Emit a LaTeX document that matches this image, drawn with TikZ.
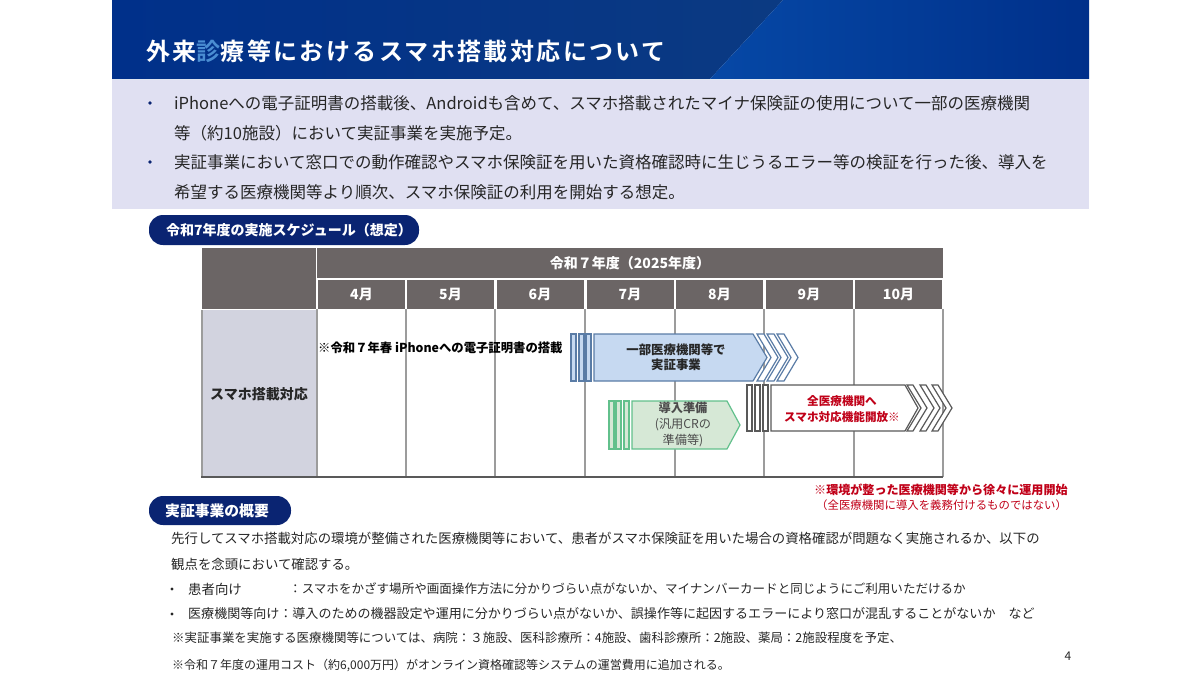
\documentclass[tikz,border=0pt]{standalone}
\usepackage{fontspec}
\setmainfont{Noto Sans CJK JP}
\newfontfamily\titlefont[LetterSpace=10,BoldFont={Noto Sans CJK JP Bold}]{Noto Sans CJK JP}
\usetikzlibrary{calc,positioning}
\definecolor{navy}{HTML}{0A2472}
\definecolor{bannerblue}{HTML}{00308A}
\definecolor{bannerdark}{HTML}{0B3A82}
\definecolor{bannerlight}{HTML}{0648A6}
\definecolor{panel}{HTML}{E0E0F2}
\definecolor{headgray}{HTML}{6B6565}
\definecolor{sidegray}{HTML}{D2D3DF}
\definecolor{gridgray}{HTML}{9C9C9C}
\definecolor{bodytext}{HTML}{262626}
\definecolor{notered}{HTML}{C00018}
\definecolor{bluefill}{HTML}{C6D9F1}
\definecolor{blueline}{HTML}{5A7CA6}
\definecolor{greenfill}{HTML}{D6E8D6}
\definecolor{greenline}{HTML}{62C08C}
\tikzset{
  leadline/.style={anchor=west,inner sep=0pt,text=bodytext,font=\fontsize{16.5}{16}\selectfont},
  bodyline/.style={anchor=west,inner sep=0pt,text=bodytext,font=\fontsize{13.4}{14}\selectfont},
  smallline/.style={anchor=west,inner sep=0pt,text=bodytext,font=\fontsize{12}{12}\selectfont},
  pill/.style={rounded corners=14pt,fill=navy,draw=none},
  pilltext/.style={anchor=west,inner sep=0pt,text=white,font=\fontsize{14}{14}\selectfont\bfseries},
  headcell/.style={fill=headgray,text=white,inner sep=0pt,font=\fontsize{14}{14}\selectfont\bfseries},
  gridline/.style={draw=gridgray,line width=1.6pt},
  bluebar/.style={draw=blueline,fill=bluefill,line width=1.2pt},
  greenbar/.style={draw=greenline,fill=greenfill,line width=1.2pt},
  whitebar/.style={draw=black!65,fill=white,line width=1.2pt},
}
\begin{document}
\begin{tikzpicture}[x=1pt,y=-1pt]
\useasboundingbox (0,0) rectangle (1200,675);
% banner
\shade[left color=bannerblue,right color=bannerdark] (112,0) -- (783,0) -- (710,79) -- (112,79) -- cycle;
\shade[left color=bannerlight,right color=bannerblue] (783,0) -- (1089,0) -- (1089,79) -- (710,79) -- cycle;
\node[anchor=west,inner sep=0pt,text=white,font=\fontsize{24}{24}\selectfont\titlefont\bfseries] (title) at (146,51) {外来{\color{cyan!55!blue!75}診}療等におけるスマホ搭載対応について};
% panel
\fill[panel] (112,80) rectangle (1089,209);
\node[leadline] (line1) at (174,103) {iPhoneへの電子証明書の搭載後、Androidも含めて、スマホ搭載されたマイナ保険証の使用について一部の医療機関};
\node[leadline] (line2) at (174,133) {等（約10施設）において実証事業を実施予定。};
\node[leadline] (line3) at (174,162) {実証事業において窓口での動作確認やスマホ保険証を用いた資格確認時に生じうるエラー等の検証を行った後、導入を};
\node[leadline] (line4) at (174,192) {希望する医療機関等より順次、スマホ保険証の利用を開始する想定。};
\fill[navy] (150,103) circle (1.8) (150,162) circle (1.8);
% schedule
\fill[pill] (149,215) rectangle (419,245);
\node[pilltext] (schedule) at (166,230) {令和7年度の実施スケジュール（想定）};
\fill[headgray] (202,248) rectangle (316,309);
\node[headcell,minimum width=626pt,minimum height=30pt] (year) at (630,263) {令和７年度（2025年度）};
\fill[sidegray] (202,310) rectangle (316,477);
\node[inner sep=0pt,text=black!85,font=\fontsize{14}{14}\selectfont\bfseries] (side) at (259,394) {スマホ搭載対応};
\coordinate (tbottom) at (317,477);
\foreach \m/\cx in {4/361.5,5/450.5,6/540,7/630,8/719.5,9/809,10/898.5}
  \node[headcell,minimum width=87pt,minimum height=29pt] (month\m) at (\cx,294.5) {\m 月};
\draw[gridline] (202,310) -- (202,477);
\draw[gridline] (317,309) -- (tbottom);
\foreach \m in {4,5,6,7,8,9,10}{
  \coordinate (grid\m) at ($(month\m.south east)+(1,0)$);
  \draw[gridline] (grid\m) -- (grid\m |- tbottom);
}
\draw[draw=black!65,line width=1.6pt] (201,477) -- (tbottom) -- (grid10 |- tbottom);
\node[anchor=west,inner sep=0pt,text=black,font=\fontsize{12.35}{12}\selectfont\bfseries] (spring) at (318,348) {※令和７年春 iPhoneへの電子証明書の搭載};
% blue arrow
\foreach \a in {571,579,586}
  \draw[bluebar] (\a,334) rectangle (\a+5,381);
\foreach \a in {0,10,20}
  \draw[bluebar,fill=white] (757+\a,334) -- (764+\a,334) -- (778+\a,357.5) -- (764+\a,381) -- (757+\a,381) -- (771+\a,357.5) -- cycle;
\draw[bluebar] (594,334) -- (753,334) -- (767,357.5) -- (753,381) -- (594,381) -- cycle;
\node[align=center,inner sep=0pt,text=black!85,font=\fontsize{12.4}{15.5}\selectfont\bfseries] (pilot) at (676,357) {一部医療機関等で\\実証事業};
% green arrow
\foreach \a in {609,616,624}
  \draw[greenbar] (\a,401) rectangle (\a+5,449);
\draw[greenbar] (632,401) -- (727,401) -- (740,425) -- (727,449) -- (632,449) -- cycle;
\node[align=center,inner sep=0pt,text=black!70,font=\fontsize{12.2}{16}\selectfont] (prep) at (683,424) {\textbf{導入準備}\\(汎用CRの\\準備等)};
% white arrow
\foreach \a in {747,755,763}
  \draw[whitebar] (\a,385) rectangle (\a+5,431);
\foreach \a in {0,13,25}
  \draw[whitebar] (907+\a,385) -- (913+\a,385) -- (927+\a,408) -- (913+\a,431) -- (907+\a,431) -- (921+\a,408) -- cycle;
\draw[whitebar] (771,385) -- (905,385) -- (918,408) -- (905,431) -- (771,431) -- cycle;
\node[align=center,inner sep=0pt,text=notered,font=\fontsize{11.6}{15.5}\selectfont\bfseries] (open) at (842,409) {全医療機関へ\\スマホ対応機能開放※};
% note
\node[anchor=west,inner sep=0pt,text=notered,font=\fontsize{12.07}{12}\selectfont\bfseries] (note1) at (814,490) {※環境が整った医療機関等から徐々に運用開始};
\node[anchor=west,inner sep=0pt,text=notered,font=\fontsize{11.4}{12}\selectfont] (note2) at (816,505) {（全医療機関に導入を義務付けるものではない）};
% outline
\fill[pill] (149,496) rectangle (291,525);
\node[pilltext,font=\fontsize{14.8}{15}\selectfont\bfseries] (outline) at (165,511) {実証事業の概要};
\node[bodyline] (body1) at (171,538) {先行してスマホ搭載対応の環境が整備された医療機関等において、患者がスマホ保険証を用いた場合の資格確認が問題なく実施されるか、以下の};
\node[bodyline] (body2) at (171,564) {観点を念頭において確認する。};
\fill[bodytext] (172,589) circle (1.6) (172,614) circle (1.6);
\node[bodyline] (body3) at (188,589) {患者向け};
\node[bodyline,font=\fontsize{12.55}{14}\selectfont] (body3b) at (289,589) {：スマホをかざす場所や画面操作方法に分かりづらい点がないか、マイナンバーカードと同じようにご利用いただけるか};
\node[bodyline,font=\fontsize{13.03}{14}\selectfont] (body4) at (188,614) {医療機関等向け：導入のための機器設定や運用に分かりづらい点がないか、誤操作等に起因するエラーにより窓口が混乱することがないか　など};
\node[smallline,font=\fontsize{12.45}{12}\selectfont] (body5) at (172,638) {※実証事業を実施する医療機関等については、病院：３施設、医科診療所：4施設、歯科診療所：2施設、薬局：2施設程度を予定、};
\node[smallline] (body6) at (172,665) {※令和７年度の運用コスト（約6,000万円）がオンライン資格確認等システムの運営費用に追加される。};
\node[inner sep=0pt,text=bodytext,font=\fontsize{12}{12}\selectfont] (pageno) at (1068,656) {4};
\end{tikzpicture}
\end{document}
